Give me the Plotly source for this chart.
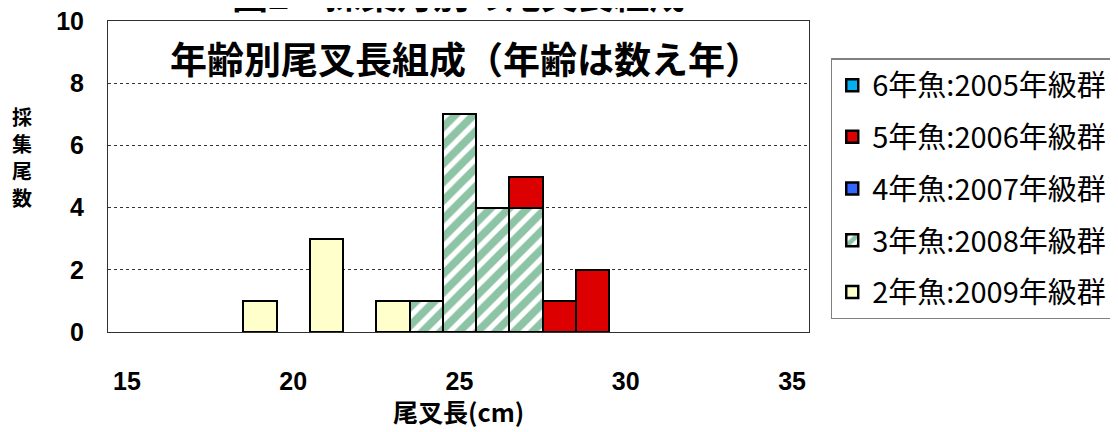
import plotly.graph_objects as go

# ---- data ----
lengths = [19, 20, 21, 22, 23, 24, 25, 26, 27, 28, 29]
age2_cnt = [1, 0, 3, 0, 1, 0, 0, 0, 0, 0, 0]
age3_cnt = [0, 0, 0, 0, 0, 1, 7, 4, 4, 0, 0]
age4_cnt = [0, 0, 0, 0, 0, 0, 0, 0, 0, 0, 0]
age5_cnt = [0, 0, 0, 0, 0, 0, 0, 0, 1, 1, 2]
age6_cnt = [0, 0, 0, 0, 0, 0, 0, 0, 0, 0, 0]

x_ticks = [15, 20, 25, 30, 35]
y_ticks = [0, 2, 4, 6, 8, 10]

names = ["2年魚:2009年級群", "3年魚:2008年級群", "4年魚:2007年級群",
         "5年魚:2006年級群", "6年魚:2005年級群"]
y_title_chars = ["採", "集", "尾", "数"]

CJK = "Noto Sans CJK JP"
NUM = "Liberation Sans Narrow, Liberation Sans, Arial"

fig = go.Figure()

series = [
    (age2_cnt, names[0], dict(color="#FFFFCC")),
    (age3_cnt, names[1], dict(color="white",
        pattern=dict(shape="/", fgcolor="#1E8A4E", bgcolor="white", size=13, solidity=0.6))),
    (age4_cnt, names[2], dict(color="#3366FF")),
    (age5_cnt, names[3], dict(color="#DD0000")),
    (age6_cnt, names[4], dict(color="#00B0F0")),
]
for i, (cnt, nm, mk) in enumerate(series):
    mk = dict(mk)
    mk["line"] = dict(color="black", width=2.5)
    fig.add_trace(go.Bar(x=lengths, y=[v if v else None for v in cnt], name=nm,
                         marker=mk, width=1, legendgroup=f"g{i}",
                         legendrank=100 - 10 * i, showlegend=True))

# the page body adds an 8px offset; margins compensate for it
fig.update_layout(
    width=1118, height=432,
    margin=dict(l=100, r=317, t=13, b=108, autoexpand=False),
    barmode="stack", bargap=0,
    plot_bgcolor="white", paper_bgcolor="white",
    font=dict(family=CJK, color="black"),
    legend=dict(
        x=1.031, y=0.88, xanchor="left", yanchor="top",
        traceorder="grouped", tracegroupgap=11,
        font=dict(family=CJK, size=29, color="black"),
        bordercolor="#808080", borderwidth=1.5, bgcolor="white",
    ),
    xaxis=dict(
        range=[14.43, 35.51], tickmode="array", tickvals=x_ticks,
        ticktext=[str(v) for v in x_ticks], automargin=False,
        showgrid=False, zeroline=False, showline=True, mirror=True,
        linecolor="#303030", linewidth=1, ticks="",
        ticklabelstandoff=27, ticklabeloverflow="allow",
        tickfont=dict(family=NUM, size=25, color="black", weight="bold"),
    ),
    yaxis=dict(
        range=[0, 10], tickmode="array", tickvals=y_ticks,
        ticktext=[str(v) for v in y_ticks], automargin=False,
        showgrid=True, gridcolor="#333333", griddash="dot", gridwidth=1,
        zeroline=False, showline=True, mirror=True,
        linecolor="#303030", linewidth=1, ticks="",
        ticklabelstandoff=18, ticklabeloverflow="allow",
        tickfont=dict(family=NUM, size=25, color="black", weight="bold"),
    ),
)

annotations = [
    dict(text="年齢別尾叉長組成（年齢は数え年）", xref="paper", yref="paper",
         x=0.511, y=0.881, xanchor="center", yanchor="middle", showarrow=False,
         font=dict(family=CJK, size=37, weight="bold", color="black")),
    dict(text="図2　採集月別の尾叉長組成", xref="paper", yref="paper",
         x=0.50, y=1.09, xanchor="center", yanchor="middle", showarrow=False,
         font=dict(family=CJK, size=36, weight="bold", color="black")),
    dict(text="尾叉長(cm)", xref="paper", yref="paper",
         x=0.5, y=-0.254, xanchor="center", yanchor="middle", showarrow=False,
         font=dict(family=CJK, size=25, weight="bold", color="black")),
]
for k, ch in enumerate(y_title_chars):
    annotations.append(dict(
        text=ch, xref="paper", yref="paper", x=-0.1227, y=0.563,
        yshift=(1.5 - k) * 27, xanchor="center", yanchor="middle", showarrow=False,
        borderpad=0,
        font=dict(family=CJK, size=20, weight="bold", color="black")))
fig.update_layout(annotations=annotations)

fig.write_html("out.html")
